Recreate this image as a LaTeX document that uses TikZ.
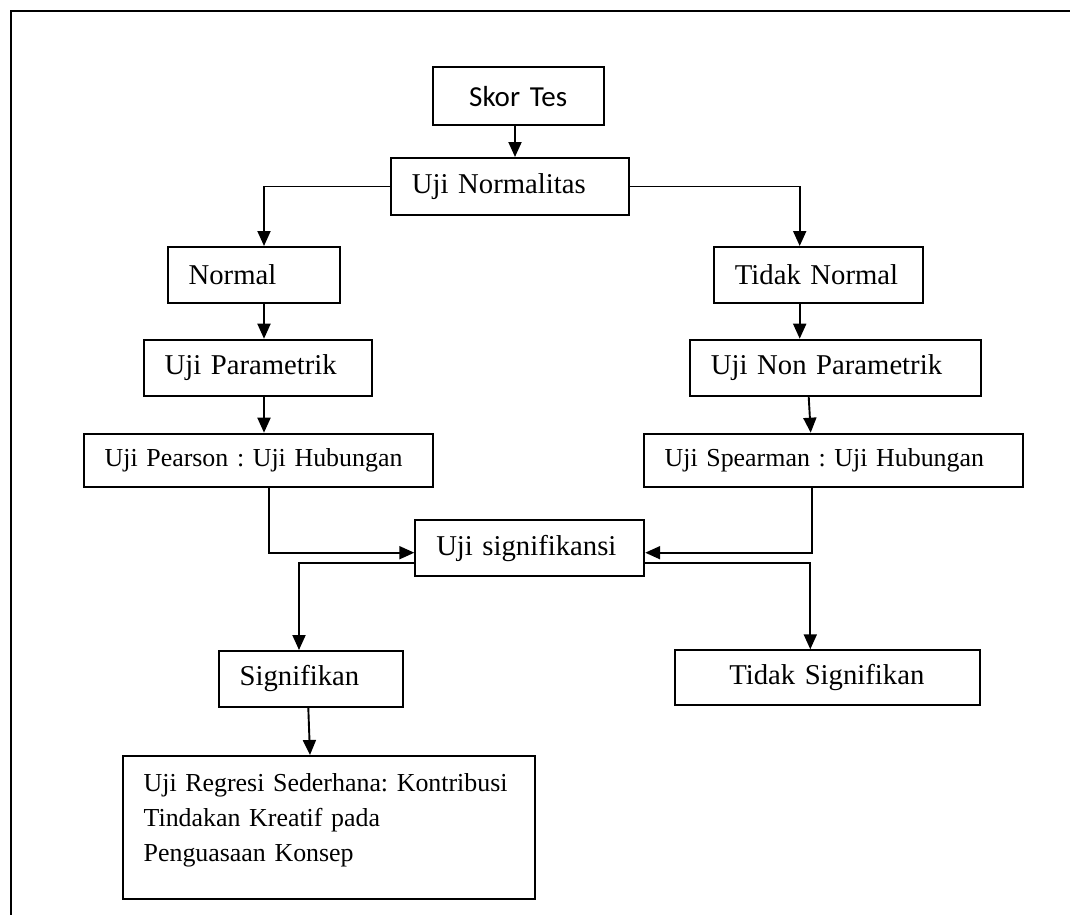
\documentclass[tikz,border=0pt]{standalone}
\usepackage{fontspec}
\setmainfont{Liberation Serif}
\newfontfamily\calibrifont{Carlito}
\usetikzlibrary{arrows.meta,calc}
\begin{document}
\frenchspacing
\begin{tikzpicture}[x=1pt,y=-1pt,
  bx/.style={draw,line width=1.9pt,inner xsep=21pt,inner ysep=0pt,anchor=north west,align=left,font=\fontsize{28.7}{34}\selectfont\frenchspacing},
  sm/.style={font=\fontsize{25.9}{35}\selectfont\frenchspacing},
  arr/.style={line width=1.9pt,-{Triangle[length=15pt,width=13pt]}},
  frame/.style={line width=2pt}]
\useasboundingbox (0,0) rectangle (1070,915);
\draw[frame] (1070,11) -- (11,11) -- (11,915);

\node[bx,align=center,text width=129pt,minimum height=58.3pt,font=\calibrifont\fontsize{29}{34}\selectfont] (sk) at (431.7,66) {\mbox{Skor Tes}};
\node[bx,text width=195.7pt,minimum height=57pt] (un) at (390,157) {\mbox{Uji Normalitas}};
\node[bx,text width=130.3pt,minimum height=56pt] (nm) at (166.7,246) {\mbox{Normal}};
\node[bx,text width=186.3pt,minimum height=56pt] (up) at (142.7,338.7) {\mbox{Uji Parametrik}};
\node[bx,sm,text width=307.6pt,minimum height=53.3pt] (pe) at (82.7,432.7) {\mbox{Uji Pearson : Uji Hubungan}};
\node[bx,text width=167pt,minimum height=56pt] (tn) at (713,246) {\mbox{Tidak Normal}};
\node[bx,text width=248.7pt,minimum height=56pt] (np) at (689,338.7) {\mbox{Uji Non Parametrik}};
\node[bx,sm,text width=337.3pt,minimum height=53.3pt] (sp) at (642.7,432.7) {\mbox{Uji Spearman : Uji Hubungan}};
\node[bx,text width=187pt,minimum height=56pt] (sig) at (414.3,519.3) {\mbox{Uji signifikansi}};
\node[bx,text width=142pt,minimum height=56pt] (sg) at (217.7,650) {\mbox{Signifikan}};
\node[bx,text width=263pt,minimum height=55pt] (ts) at (674.3,649.3) {\mbox{\hspace*{33pt}Tidak Signifikan}};
\node[bx,sm,text width=370.3pt,text height=35.7pt,text depth=107pt] (reg) at (121.7,755) {\mbox{Uji Regresi Sederhana: Kontribusi}\\\mbox{Tindakan Kreatif pada}\\\mbox{Penguasaan Konsep}};

\draw[arr] (515,0 |- sk.south) -- (515,0 |- un.north);
\draw[arr] (un.west) -| (264,0 |- nm.north);
\draw[arr] (un.east) -| (799.7,0 |- tn.north);
\draw[arr] (264,0 |- nm.south) -- (264,0 |- up.north);
\draw[arr] (264,0 |- up.south) -- (264,0 |- pe.north);
\draw[arr] (799.7,0 |- tn.south) -- (799.7,0 |- np.north);
\draw[arr] (808.7,0 |- np.south) -- (810.7,0 |- sp.north);
\draw[arr] (269.3,0 |- pe.south) |- (sig.west |- 0,552.7);
\draw[arr] (811.7,0 |- sp.south) |- (sig.east |- 0,552.7);
\draw[arr] (sig.west |- 0,563.3) -| (299,0 |- sg.north);
\draw[arr] (sig.east |- 0,563.3) -| (810.3,0 |- ts.north);
\draw[arr] (308.3,0 |- sg.south) -- (310,0 |- reg.north);
\end{tikzpicture}
\end{document}
